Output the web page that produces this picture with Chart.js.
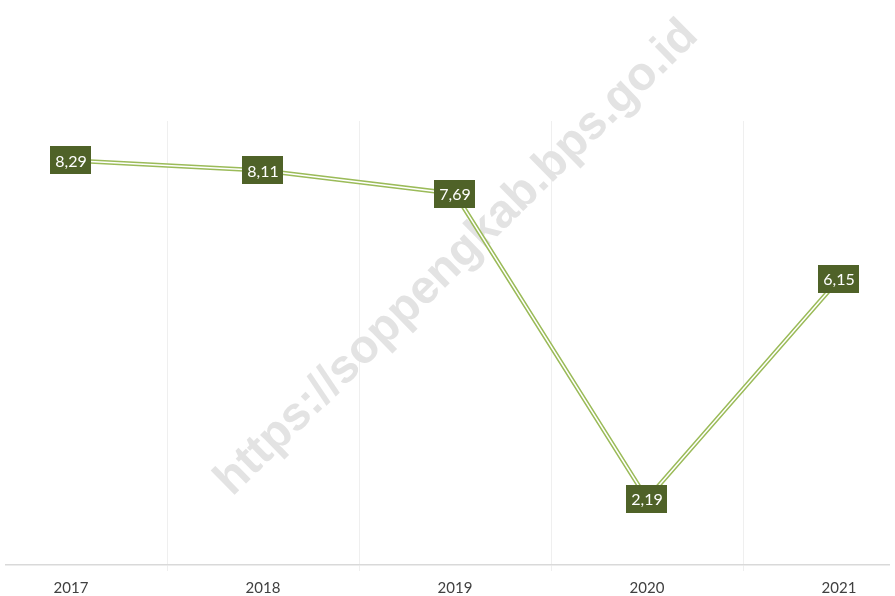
<!DOCTYPE html>
<html lang="id">
<head>
<meta charset="UTF-8">
<script src="https://cdn.jsdelivr.net/npm/chart.js"></script>
<style>
    html, body { margin: 0; padding: 0; background: #fff; }
    .frame { position: absolute; left: 5px; top: 0; width: 885px; height: 596px; overflow: hidden; }
    .inner { position: absolute; left: -30px; top: 0; width: 960px; height: 596px; }
</style>
<title>Soppeng</title>
</head>
<body>
<div class="frame">
    <div class="inner"><canvas id="myChart"></canvas></div>
</div>
<script>
    // data
    const years = ['2017', '2018', '2019', '2020', '2021'];
    const values = [8.29, 8.11, 7.69, 2.19, 6.15];
    const watermark = 'https://soppengkab.bps.go.id';

    const lineGreen = '#9bbb59';
    const boxGreen = '#4f6228';

    // watermark behind the line
    const markPlugin = {
        id: 'mark',
        beforeDatasetsDraw: (chart) => {
            const ctx = chart.ctx;
            ctx.save();
            // center in page coords (457,258) -> canvas coords (+25)
            ctx.translate(457 + 25, 258);
            ctx.rotate(-44.5 * Math.PI / 180);
            ctx.font = 'bold 47px "Liberation Sans", Arial, sans-serif';
            ctx.fillStyle = '#e3e3e3';
            ctx.textAlign = 'center';
            ctx.textBaseline = 'middle';
            ctx.fillText(watermark, 0, 0);
            ctx.restore();
        }
    };

    // value boxes
    const boxPlugin = {
        id: 'boxes',
        afterDatasetsDraw: (chart) => {
            const ctx = chart.ctx;
            const meta = chart.getDatasetMeta(0);
            ctx.save();
            ctx.font = '16px Lato, "Open Sans", sans-serif';
            ctx.textAlign = 'center';
            ctx.textBaseline = 'middle';
            meta.data.forEach((pt, i) => {
                const txt = values[i].toFixed(2).replace('.', ',');
                const w = ctx.measureText(txt).width + 10;
                const h = 28;
                ctx.fillStyle = boxGreen;
                ctx.fillRect(Math.round(pt.x - w / 2), Math.round(pt.y - h / 2), Math.round(w), h);
                ctx.fillStyle = '#ffffff';
                ctx.fillText(txt, pt.x, pt.y + 1);
            });
            ctx.restore();
        }
    };

    const config = {
        type: 'line',
        data: {
            labels: years,
            datasets: [
                {
                    data: values,
                    borderColor: lineGreen,
                    borderWidth: 4.5,
                    pointRadius: 0,
                    tension: 0,
                    fill: false,
                    order: 2
                },
                {
                    data: values,
                    borderColor: '#ffffff',
                    borderWidth: 1.5,
                    pointRadius: 0,
                    tension: 0,
                    fill: false,
                    order: 1
                }
            ]
        },
        plugins: [markPlugin, boxPlugin],
        options: {
            responsive: false,
            animation: false,
            layout: {
                padding: { top: 121, left: 0, right: 0, bottom: -9 }
            },
            plugins: {
                legend: { display: false },
                tooltip: { enabled: false }
            },
            scales: {
                x: {
                    offset: true,
                    grid: {
                        offset: true,
                        color: '#efefef',
                        lineWidth: 1,
                        drawTicks: true,
                        tickLength: 6
                    },
                    border: { display: true, color: '#d9d9d9', width: 1.5 },
                    ticks: {
                        color: '#404040',
                        font: { family: 'Lato, "Open Sans", sans-serif', size: 15 },
                        padding: 8,
                        maxRotation: 0
                    }
                },
                y: {
                    display: false,
                    min: 1,
                    max: 9
                }
            }
        }
    };

    const cv = document.getElementById('myChart');
    cv.width = 960;
    cv.height = 596;
    new Chart(cv.getContext('2d'), config);
</script>
</body>
</html>
